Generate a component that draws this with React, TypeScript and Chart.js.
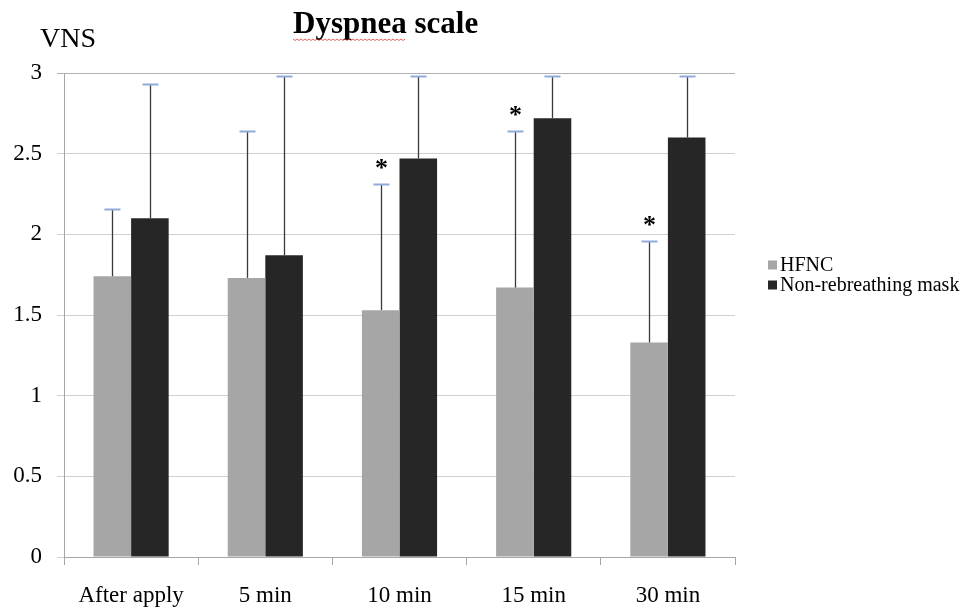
import React, { useEffect, useRef } from "react";
import { Chart, registerables } from "chart.js";

Chart.register(...registerables);

const categories = ["After apply", "5 min", "10 min", "15 min", "30 min"];
const hfncValues = [1.74, 1.73, 1.53, 1.67, 1.33];
const nrmValues = [2.1, 1.87, 2.47, 2.72, 2.6];
const hfncErrTop = [2.16, 2.64, 2.31, 2.64, 1.96];
const nrmErrTop = [2.93, 2.98, 2.98, 2.98, 2.98];
const hfncSignificant = [false, false, true, true, true];
const seriesNames = ["HFNC", "Non-rebreathing mask"];
const seriesColors = ["#a6a6a6", "#262626"];
const titleText = "Dyspnea scale";
const yAxisTitle = "VNS";

const FONT = '"Liberation Serif", "Times New Roman", serif';

const errorBarPlugin = {
  id: "errorBars",
  afterDatasetsDraw(chart: any) {
    const { ctx } = chart;
    const y = chart.scales.y;
    const errs = [hfncErrTop, nrmErrTop];
    errs.forEach((arr, di) => {
      const meta = chart.getDatasetMeta(di);
      meta.data.forEach((bar: any, i: number) => {
        const x = Math.round(bar.x) + 0.5;
        const yTop = bar.y;
        const yErr = Math.round(y.getPixelForValue(arr[i])) + 0.5;
        ctx.save();
        ctx.strokeStyle = "#3a3a3a";
        ctx.lineWidth = 1.3;
        ctx.beginPath();
        ctx.moveTo(x, yTop);
        ctx.lineTo(x, yErr);
        ctx.stroke();
        ctx.strokeStyle = "#8eaadb";
        ctx.lineWidth = 2;
        ctx.beginPath();
        ctx.moveTo(x - 8, yErr);
        ctx.lineTo(x + 8, yErr);
        ctx.stroke();
        if (di === 0 && hfncSignificant[i]) {
          ctx.fillStyle = "#000";
          ctx.font = `bold 26px ${FONT}`;
          ctx.textAlign = "center";
          ctx.textBaseline = "alphabetic";
          ctx.fillText("*", x, yErr - 9);
        }
        ctx.restore();
      });
    });
  },
};

const decorPlugin = {
  id: "decor",
  afterDraw(chart: any) {
    const { ctx } = chart;
    ctx.save();
    // Title
    ctx.fillStyle = "#000";
    ctx.font = `bold 31px ${FONT}`;
    ctx.textAlign = "left";
    ctx.textBaseline = "alphabetic";
    const tx = 293;
    ctx.fillText(titleText, tx, 33);
    const wordW = ctx.measureText(titleText.split(" ")[0]).width;
    // spell-check squiggle
    ctx.strokeStyle = "#e04040";
    ctx.lineWidth = 0.8;
    ctx.beginPath();
    for (let px = 0; px <= wordW; px += 2) {
      const yy = 39 + ((px / 2) % 2 === 0 ? 0 : 1.5);
      if (px === 0) ctx.moveTo(tx + px, yy);
      else ctx.lineTo(tx + px, yy);
    }
    ctx.stroke();
    // Y title
    ctx.font = `28px ${FONT}`;
    ctx.fillText(yAxisTitle, 40, 47);
    // Legend
    const lx = 768;
    const rows = [265, 285];
    ctx.font = `20px ${FONT}`;
    ctx.textBaseline = "middle";
    seriesNames.forEach((name, i) => {
      ctx.fillStyle = seriesColors[i];
      ctx.fillRect(lx, rows[i] - 4.5, 9, 9);
      ctx.fillStyle = "#000";
      ctx.fillText(name, lx + 12, rows[i] + 1);
    });
    ctx.restore();
  },
};

export default function App() {
  const ref = useRef<HTMLCanvasElement | null>(null);
  useEffect(() => {
    if (!ref.current) return;
    const chart = new Chart(ref.current, {
      type: "bar",
      data: {
        labels: categories,
        datasets: [
          {
            label: seriesNames[0],
            data: hfncValues,
            backgroundColor: seriesColors[0],
            borderWidth: 0,
            categoryPercentage: 0.56,
            barPercentage: 1,
          },
          {
            label: seriesNames[1],
            data: nrmValues,
            backgroundColor: seriesColors[1],
            borderWidth: 0,
            categoryPercentage: 0.56,
            barPercentage: 1,
          },
        ],
      },
      options: {
        responsive: false,
        animation: false,
        layout: { padding: { top: 73, right: 230, left: 0, bottom: 0 } },
        plugins: {
          legend: { display: false },
          title: { display: false },
          tooltip: { enabled: false },
        },
        scales: {
          x: {
            grid: {
              offset: true,
              drawOnChartArea: false,
              drawTicks: true,
              tickLength: 8,
              color: "#a6a6a6",
            },
            border: { color: "#a6a6a6", width: 1 },
            ticks: {
              color: "#000",
              font: { family: FONT, size: 23 },
              padding: 17,
              maxRotation: 0,
            },
            afterFit(scale: any) {
              scale.height = 59;
            },
          },
          y: {
            min: 0,
            max: 3,
            ticks: {
              stepSize: 0.5,
              color: "#000",
              font: { family: FONT, size: 23 },
              padding: 15,
              callback: (v: any) => String(Number(v)),
            },
            grid: {
              tickLength: 7,
              color: (c: any) => (c.tick && c.tick.value === 3 ? "#b0b0b0" : "#d0d0d0"),
            },
            border: { color: "#a6a6a6", width: 1 },
            afterFit(scale: any) {
              scale.width = 64;
            },
          },
        },
      },
      plugins: [errorBarPlugin, decorPlugin],
    });
    return () => chart.destroy();
  }, []);
  return (
    <div style={{ position: "absolute", left: 0, top: 0, width: 965, height: 616, background: "#fff" }}>
      <canvas ref={ref} width={965} height={616} style={{ display: "block" }} />
    </div>
  );
}
